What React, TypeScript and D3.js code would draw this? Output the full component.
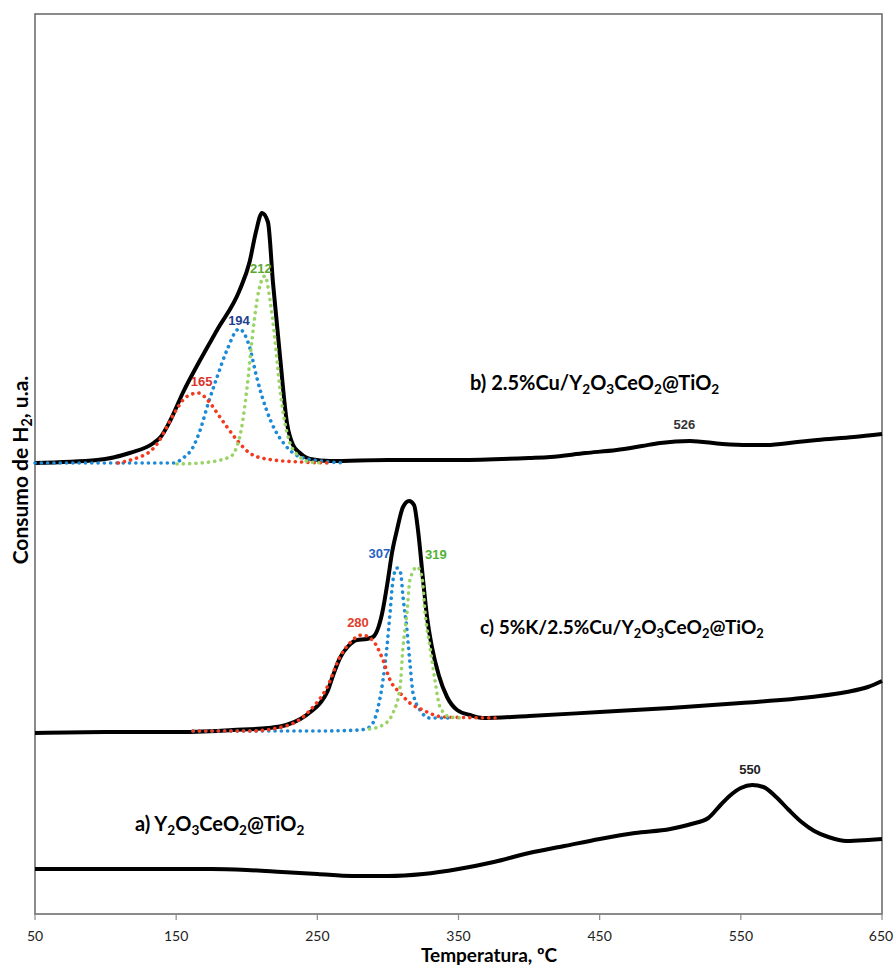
import React from 'react';
import * as d3 from 'd3';

type P = [number, number];

const xTicks = [50, 150, 250, 350, 450, 550, 650];

// [temperature ºC, signal a.u.]
const curveA: P[] = [[50,45],[100,45],[150,45],[175,45],[200,44],[225,42],[250,40],[275,38],[300,38],[325,40],[350,45],[375,52],[400,61],[425,68],[450,75],[475,81],[500,85],[515,90],[527,96],[535,108],[542,118],[550,126],[558,129],[566,127],[575,117],[584,104],[593,92],[602,83],[612,77],[625,73],[640,74],[650,75]];

const curveB: P[] = [[50,451],[94,454],[117,461],[134,471],[139,477],[146,494],[155,522],[167,554],[179,584],[195,624],[202,652],[206.5,682],[210.8,701],[215,692],[218.6,631],[223.6,557],[228.5,491],[232.8,469],[237.7,461],[244.8,455],[259,453],[300,454],[350,454],[400,456],[415,457],[440,461],[462,464],[480,468],[493,471],[514,473],[537,470],[555,469],[568,469],[590,472],[604,474],[630,477],[650,480]];
const b165: P[] = [[109,451],[124,457],[130,461],[137,471],[143,486],[150,504],[157,517],[165.5,521],[174,511],[179,501],[186,487],[193,474],[202,461],[214,455],[238,452],[260,451]];
const b194: P[] = [[50,451],[100,451],[148,451],[155,456],[162,467],[167,484],[173,512],[179,537],[186,564],[194.5,585],[202,567],[207,537],[214,504],[220,484],[226,471],[238,457],[259,452],[270,451]];
const b212: P[] = [[150.6,450],[167,451],[188,457],[195,477],[200,524],[203.7,574],[207.3,614],[212.9,638],[216.5,614],[220,574],[223.6,524],[230.6,471],[237.7,457],[244.8,452],[255,451]];

const curveC: P[] = [[50,181],[100,182],[150,182],[190,184],[215,186],[228,189],[238,195],[246,203],[252,211],[257,222],[261,238],[266,256],[272,268],[278,274],[285,275],[289.4,277],[295.8,300],[300,334],[303,362],[306.4,384],[310.7,407],[315,413],[318.5,409],[321.3,384],[324.9,334],[328,294],[331.2,267],[336,239],[341.9,217],[349,204],[358,199],[367,196],[400,198],[450,202],[500,206],[550,211],[600,217],[625,222],[640,227],[650,233]];
const c280: P[] = [[162,183],[202,183],[230,189],[245,204],[257,227],[266,257],[273,271],[281.6,279],[289,274],[296.5,254],[301.5,234],[308.6,221],[315.6,211],[324.8,204],[339,197],[379,196]];
const c307: P[] = [[162,183],[200,183],[250,183],[280,184],[287,187],[292,201],[296.5,234],[299.3,267],[301.5,301],[303.6,334],[306.4,346],[309,341],[310.7,317],[313.5,284],[315.6,251],[317.8,221],[322.7,204],[329.8,196],[344,196]];
const c319: P[] = [[287,185],[296.5,189],[303.6,201],[308.6,227],[310.7,267],[313.5,301],[315.6,334],[320.6,347],[324.1,337],[326.3,301],[329.8,267],[333.3,234],[336.9,207],[344,197],[352,196]];

const peakLabels = [
  { t: 168, v: 528, text: '165', color: '#d9342a' },
  { t: 194.5, v: 589, text: '194', color: '#1f3f8f' },
  { t: 210, v: 641, text: '212', color: '#5aa832' },
  { t: 278.8, v: 287, text: '280', color: '#e0402a' },
  { t: 294, v: 356, text: '307', color: '#2a5fc4' },
  { t: 334, v: 355, text: '319', color: '#52b233' },
  { t: 510, v: 485, text: '526', color: '#333333' },
  { t: 556.5, v: 140, text: '550', color: '#222222' },
];

const W = 895, H = 966;
const L = 35, R = 882, T = 14, B = 914;

const RED = '#f23a1e', BLUE = '#1c8ad6', GREEN = '#9ad466';

const font = "Lato, 'Open Sans', sans-serif";

export default function App() {
  const x = d3.scaleLinear().domain([50, 650]).range([L, R]);
  const y = d3.scaleLinear().domain([0, 900]).range([B, T]);
  const line = d3.line<P>().x(d => x(d[0])).y(d => y(d[1])).curve(d3.curveMonotoneX);

  const solid = (d: P[], k: string) => (
    <path key={k} d={line(d) || ''} fill="none" stroke="#000" strokeWidth={4} strokeLinejoin="round" />
  );
  const dotted = (d: P[], c: string, k: string) => (
    <path key={k} d={line(d) || ''} fill="none" stroke={c} strokeWidth={3.6} strokeDasharray="0.1 6.2" strokeLinecap="round" />
  );

  const sub = (s: string) => <tspan baselineShift="-28%" fontSize="68%">{s}</tspan>;

  return (
    <svg width={W} height={H} style={{ position: 'absolute', left: 0, top: 0 }}>
      <rect x={0} y={0} width={W} height={H} fill="#fff" />
      <rect x={L} y={T} width={R - L} height={B - T} fill="none" stroke="#6e6e6e" strokeWidth={1.6} />
      {xTicks.map(t => (
        <g key={t}>
          <line x1={x(t)} x2={x(t)} y1={B} y2={B + 6} stroke="#8a8a8a" strokeWidth={1.2} />
          <text x={t === 650 ? x(t) - 1 : x(t)} y={941} textAnchor="middle" fontFamily={font} fontSize={14} fill="#222">{t}</text>
        </g>
      ))}
      <text x={489} y={962} textAnchor="middle" fontFamily={font} fontWeight="bold" fontSize={19} fill="#000">Temperatura, ºC</text>
      <text transform="translate(28,470) rotate(-90)" textAnchor="middle" fontFamily={font} fontWeight="bold" fontSize={21} fill="#000">
        Consumo de H{sub('2')}, u.a.
      </text>

      {solid(curveA, 'a')}
      {solid(curveB, 'b')}
      {solid(curveC, 'c')}
      {dotted(b194, BLUE, 'b194')}
      {dotted(b165, RED, 'b165')}
      {dotted(b212, GREEN, 'b212')}
      {dotted(c307, BLUE, 'c307')}
      {dotted(c280, RED, 'c280')}
      {dotted(c319, GREEN, 'c319')}

      {peakLabels.map(p => (
        <text key={p.text} x={x(p.t)} y={y(p.v)} textAnchor="middle" fontFamily="'Liberation Sans', Arial, sans-serif" fontWeight="bold" fontSize={13} fill={p.color}>{p.text}</text>
      ))}

      <text x={470} y={390} fontFamily={font} fontWeight="bold" fontSize={20} fill="#000">
        b) 2.5%Cu/Y{sub('2')}O{sub('3')}CeO{sub('2')}@TiO{sub('2')}
      </text>
      <text x={480} y={634} fontFamily={font} fontWeight="bold" fontSize={19} fill="#000">
        c) 5%K/2.5%Cu/Y{sub('2')}O{sub('3')}CeO{sub('2')}@TiO{sub('2')}
      </text>
      <text x={135} y={831} fontFamily={font} fontWeight="bold" fontSize={20} fill="#000">
        a) Y{sub('2')}O{sub('3')}CeO{sub('2')}@TiO{sub('2')}
      </text>
    </svg>
  );
}
